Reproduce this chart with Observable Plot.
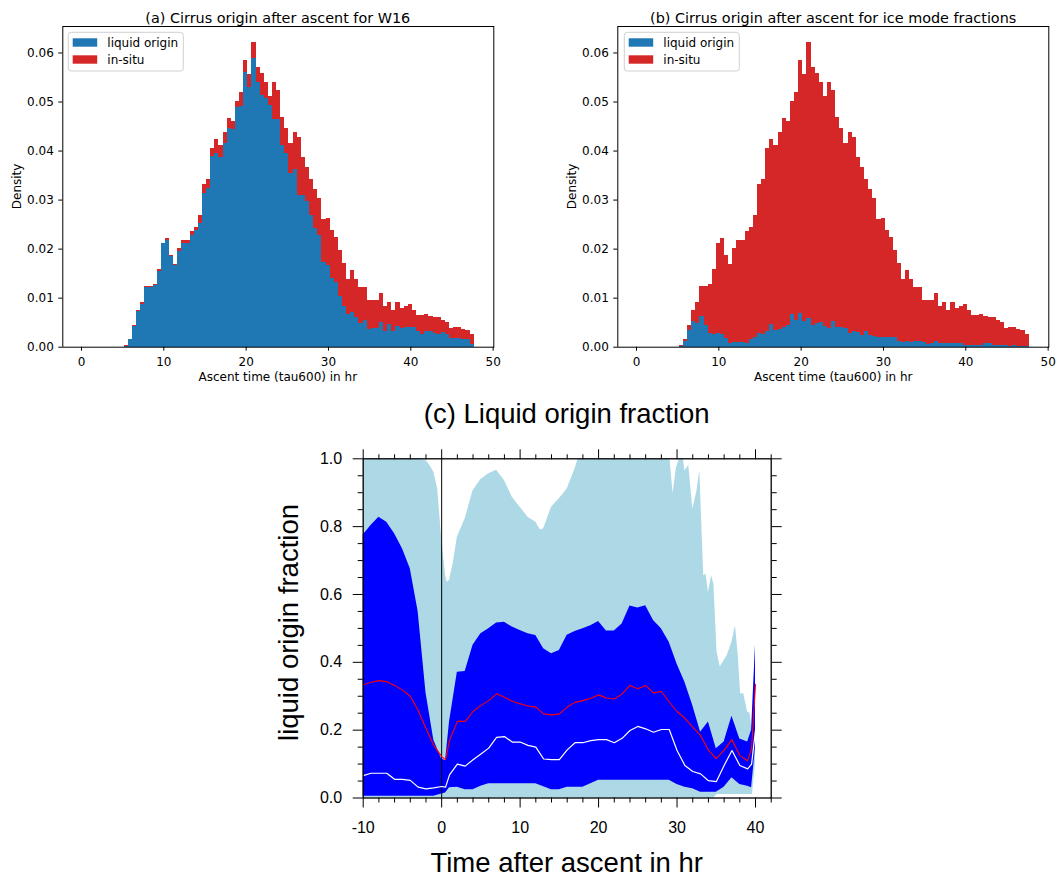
<!DOCTYPE html>
<html><head><meta charset="utf-8">
<script src="https://cdn.jsdelivr.net/npm/d3@7"></script>
<script src="https://cdn.jsdelivr.net/npm/@observablehq/plot@0.6"></script>
<style>
html,body{margin:0;padding:0;background:#fff;}
#page{position:relative;width:1057px;height:881px;overflow:hidden;background:#fff;}
.panel{position:absolute;}
#overlay{position:absolute;left:0;top:0;}
</style></head>
<body><div id="page">
<div id="pa" class="panel" style="left:0;top:0;width:520px;height:395px"></div>
<div id="pb" class="panel" style="left:555.4px;top:0;width:500px;height:395px"></div>
<div id="pc" class="panel" style="left:250px;top:440px;width:560px;height:420px"></div>
<svg id="overlay" width="1057" height="881">
  <g font-family="DejaVu Sans" fill="#000">
    <text x="277.8" y="22.5" font-size="14.4" text-anchor="middle">(a) Cirrus origin after ascent for W16</text>
    <text x="833.2" y="22.5" font-size="14.4" text-anchor="middle">(b) Cirrus origin after ascent for ice mode fractions</text>
    <text x="277.8" y="381" font-size="12" text-anchor="middle">Ascent time (tau600) in hr</text>
    <text x="833.2" y="381" font-size="12" text-anchor="middle">Ascent time (tau600) in hr</text>
    <text transform="translate(20.7,186.4) rotate(-90)" font-size="12" text-anchor="middle">Density</text>
    <text transform="translate(576.1,186.4) rotate(-90)" font-size="12" text-anchor="middle">Density</text>
  </g>
  <g id="legends" font-family="DejaVu Sans" font-size="12" fill="#000"></g>
  <g font-family="Liberation Sans" font-size="27.5" fill="#000" text-anchor="middle">
    <text x="566.7" y="423">(c) Liquid origin fraction</text>
    <text x="566.7" y="872">Time after ascent in hr</text>
    <text transform="translate(298.3,622.5) rotate(-90)">liquid origin fraction</text>
  </g>
</svg>
</div>
<script>
// ---------- Panels (a) and (b): stacked density histograms ----------
const binStart = 5.2;
const binWidth = 0.5;
const seriesNames = ["liquid origin", "in-situ"];
const seriesColors = ["#1f77b4", "#d62728"];
const histXTicks = [0, 10, 20, 30, 40, 50];
const histYTicks = [0, 0.01, 0.02, 0.03, 0.04, 0.05, 0.06];

// total stacked density per bin (same for both panels)
const totalDensity = [
  0.0004, 0.0016, 0.0044, 0.0074, 0.0092, 0.0124, 0.0124, 0.0128, 0.0158, 0.0212,
  0.0222, 0.0186, 0.0169, 0.0201, 0.0218, 0.0218, 0.0236, 0.0245, 0.0269, 0.0332,
  0.0342, 0.0406, 0.0424, 0.0411, 0.0438, 0.0466, 0.0460, 0.0501, 0.0519, 0.0585,
  0.0556, 0.0621, 0.0570, 0.0559, 0.0540, 0.0511, 0.0539, 0.0523, 0.0468, 0.0445,
  0.0415, 0.0438, 0.0427, 0.0386, 0.0367, 0.0341, 0.0321, 0.0303, 0.0260, 0.0262,
  0.0238, 0.0223, 0.0197, 0.0170, 0.0139, 0.0156, 0.0139, 0.0121, 0.0121, 0.0095,
  0.0095, 0.0095, 0.0109, 0.0083, 0.0092, 0.0075, 0.0092, 0.0078, 0.0083, 0.0087,
  0.0075, 0.0065, 0.0065, 0.0067, 0.0063, 0.0060, 0.0061, 0.0054, 0.0050, 0.0039,
  0.0041, 0.0041, 0.0036, 0.0034, 0.0025
];
// liquid-origin part, W16
const liquidW16 = [
  0.0001, 0.0015, 0.0042, 0.0073, 0.0087, 0.0122, 0.0122, 0.0126, 0.0155, 0.0211,
  0.0218, 0.0185, 0.0167, 0.0196, 0.0211, 0.0211, 0.0228, 0.0237, 0.0252, 0.0314,
  0.0323, 0.0389, 0.0394, 0.0386, 0.0415, 0.0445, 0.0443, 0.0488, 0.0491, 0.0560,
  0.0530, 0.0589, 0.0540, 0.0513, 0.0508, 0.0492, 0.0464, 0.0464, 0.0411, 0.0394,
  0.0355, 0.0362, 0.0309, 0.0309, 0.0298, 0.0268, 0.0243, 0.0228, 0.0173, 0.0167,
  0.0141, 0.0131, 0.0103, 0.0083, 0.0067, 0.0071, 0.0060, 0.0049, 0.0054, 0.0037,
  0.0039, 0.0039, 0.0051, 0.0031, 0.0046, 0.0032, 0.0043, 0.0039, 0.0041, 0.0041,
  0.0041, 0.0031, 0.0026, 0.0032, 0.0031, 0.0027, 0.0026, 0.0029, 0.0025, 0.0017,
  0.0017, 0.0017, 0.0015, 0.0015, 0.0005
];
// liquid-origin part, ice mode fractions
const liquidIceMode = [
  0.0002, 0.0012, 0.0035, 0.0052, 0.0048, 0.0063, 0.0044, 0.0027, 0.0026, 0.0027,
  0.0025, 0.0017, 0.0007, 0.0010, 0.0010, 0.0010, 0.0007, 0.0015, 0.0019, 0.0027,
  0.0026, 0.0031, 0.0046, 0.0035, 0.0037, 0.0041, 0.0044, 0.0067, 0.0054, 0.0068,
  0.0052, 0.0058, 0.0044, 0.0049, 0.0051, 0.0042, 0.0039, 0.0052, 0.0041, 0.0041,
  0.0039, 0.0027, 0.0031, 0.0029, 0.0024, 0.0031, 0.0024, 0.0022, 0.0020, 0.0020,
  0.0019, 0.0019, 0.0019, 0.0012, 0.0010, 0.0012, 0.0010, 0.0012, 0.0012, 0.0010,
  0.0005, 0.0008, 0.0012, 0.0007, 0.0007, 0.0007, 0.0007, 0.0007, 0.0007, 0.0003,
  0.0003, 0.0003, 0.0003, 0.0003, 0.0007, 0.0007, 0.0003, 0.0003, 0.0003, 0.0003,
  0.0002, 0.0003, 0.0002, 0.0002, 0.0001
];

// ---------- Panel (c): liquid origin fraction vs time ----------
const hours = [-10, -9, -8, -7, -6, -5, -4, -3, -2, -1, 0, 0.5, 1, 2, 3, 4, 5, 6, 7, 8, 9, 10,
  11, 12, 13, 14, 15, 16, 17, 18, 19, 20, 21, 22, 23, 24, 25, 26, 27, 28, 29, 30,
  31, 32, 33, 34, 35, 36, 37, 38, 39, 39.5, 40];
const innerHigh = [0.775, 0.803, 0.828, 0.813, 0.779, 0.735, 0.676, 0.55, 0.31, 0.17, 0.115, 0.11,
  0.224, 0.371, 0.373, 0.45, 0.484, 0.499, 0.516, 0.518, 0.504, 0.494,
  0.484, 0.479, 0.44, 0.425, 0.435, 0.48, 0.491, 0.499, 0.508, 0.52,
  0.492, 0.492, 0.513, 0.566, 0.56, 0.567, 0.523, 0.499, 0.459, 0.395,
  0.341, 0.273, 0.194, 0.224, 0.145, 0.165, 0.241, 0.174, 0.165, 0.2, 0.45];
const innerLow = [0.005, 0.005, 0.005, 0.005, 0.005, 0.005, 0.005, 0.005, 0.005, 0.005, 0.012, 0.015,
  0.03, 0.032, 0.024, 0.024, 0.035, 0.042, 0.042, 0.042, 0.042, 0.042,
  0.042, 0.042, 0.033, 0.024, 0.024, 0.032, 0.032, 0.032, 0.042, 0.052,
  0.052, 0.052, 0.052, 0.052, 0.052, 0.052, 0.052, 0.052, 0.052, 0.04,
  0.032, 0.027, 0.017, 0.017, 0.017, 0.032, 0.06, 0.04, 0.035, 0.03, 0.15];
const meanFraction = [0.334, 0.341, 0.346, 0.343, 0.332, 0.318, 0.300, 0.258, 0.205, 0.155, 0.122, 0.113,
  0.17, 0.226, 0.226, 0.255, 0.273, 0.287, 0.307, 0.297, 0.285, 0.278,
  0.271, 0.268, 0.248, 0.245, 0.248, 0.268, 0.282, 0.287, 0.294, 0.304,
  0.295, 0.292, 0.307, 0.332, 0.322, 0.332, 0.31, 0.314, 0.283, 0.255,
  0.235, 0.209, 0.184, 0.141, 0.116, 0.141, 0.172, 0.125, 0.11, 0.145, 0.335];
const medianFraction = [0.066, 0.073, 0.073, 0.073, 0.055, 0.055, 0.052, 0.032, 0.027, 0.03, 0.034, 0.032,
  0.068, 0.1, 0.094, 0.113, 0.13, 0.147, 0.179, 0.181, 0.165, 0.165,
  0.155, 0.15, 0.115, 0.113, 0.113, 0.142, 0.163, 0.163, 0.169, 0.172,
  0.172, 0.163, 0.176, 0.199, 0.211, 0.204, 0.194, 0.202, 0.202, 0.14,
  0.096, 0.078, 0.071, 0.051, 0.048, 0.096, 0.14, 0.096, 0.086, 0.1, 0.2];
const outerHours = [-10, -3, -2, -1.5, -1, -0.5, 0, 0.5, 0.7, 1,
  1.5, 2, 3, 4, 5, 6, 7, 8, 9, 10,
  11, 12, 12.6, 13, 14, 15, 16, 17, 17.4, 29.1,
  29.5, 29.9, 30.3, 30.8, 31.0, 31.5, 32.0, 32.5, 32.9, 33.4,
  33.7, 34.0, 34.4, 34.7, 35.1, 35.5, 36.4, 37.0, 37.45, 37.8,
  38.1, 38.5, 39.0, 39.3, 39.6, 40];
const outerHigh = [1, 1, 0.995, 0.98, 0.96, 0.91, 0.764, 0.656, 0.636, 0.641,
  0.695, 0.769, 0.823, 0.906, 0.939, 0.956, 0.966, 0.936, 0.887, 0.857,
  0.828, 0.813, 0.79, 0.794, 0.857, 0.882, 0.911, 0.97, 1.0, 1.0,
  0.897, 0.97, 1.0, 1.0, 0.965, 0.98, 0.852, 0.9, 0.965, 0.655,
  0.66, 0.606, 0.655, 0.63, 0.43, 0.386, 0.42, 0.46, 0.508, 0.42,
  0.307, 0.307, 0.253, 0.25, 0.194, 0.45];
const outerLow = [0, 0, 0, 0, 0, 0, 0, 0, 0, 0,
  0, 0, 0, 0, 0, 0, 0, 0, 0, 0,
  0, 0, 0, 0, 0, 0, 0, 0, 0, 0,
  0, 0, 0, 0, 0, 0, 0, 0, 0, 0,
  0, 0, 0, 0, 0.01, 0.01, 0.01, 0.01, 0.01, 0.01,
  0.01, 0.01, 0.01, 0.01, 0.01, 0.1];
const timeMajorTicks = [-10, 0, 10, 20, 30, 40];
const fractionMajorTicks = [0, 0.2, 0.4, 0.6, 0.8, 1.0];

// ---------- drawing ----------
function histogram(liquid) {
  const bins = totalDensity.map((total, i) => ({
    x1: binStart + i * binWidth,
    x2: binStart + (i + 1) * binWidth,
    base: 0,
    liquid: liquid[i],
    total
  }));
  return Plot.plot({
    width: 520, height: 395,
    marginLeft: 62.3, marginRight: 26.7, marginTop: 26, marginBottom: 48.3,
    style: {fontFamily: "DejaVu Sans", fontSize: "12px", background: "transparent", maxWidth: "none", overflow: "visible"},
    x: {domain: [-2.27, 50.08], axis: null, label: null},
    y: {domain: [0, 0.0654], axis: null, label: null},
    marks: [
      Plot.rect(bins, {x1: "x1", x2: "x2", y1: "base", y2: "liquid", fill: seriesColors[0], shapeRendering: "crispEdges"}),
      Plot.rect(bins, {x1: "x1", x2: "x2", y1: "liquid", y2: "total", fill: seriesColors[1], shapeRendering: "crispEdges"}),
      Plot.axisX({ticks: histXTicks, tickSize: 4, tickPadding: 6, label: null, tickFormat: d => String(d)}),
      Plot.axisY({ticks: histYTicks, tickSize: 4, tickPadding: 5, label: null, tickFormat: d3.format(".2f")}),
      Plot.frame({stroke: "#000", strokeWidth: 1})
    ]
  });
}
document.getElementById("pa").append(histogram(liquidW16));
document.getElementById("pb").append(histogram(liquidIceMode));

// legends
const legendG = d3.select("#legends");
[0, 556].forEach(off => {
  const g = legendG.append("g").attr("transform", `translate(${off},0)`);
  g.append("rect").attr("x", 68.3).attr("y", 32.3).attr("width", 115).attr("height", 38.7)
    .attr("rx", 3).attr("fill", "#fff").attr("fill-opacity", 0.8).attr("stroke", "#d0d0d0").attr("stroke-width", 1);
  seriesNames.forEach((name, i) => {
    g.append("rect").attr("x", 72.7).attr("y", 38.3 + i * 17).attr("width", 24.5).attr("height", 8.4).attr("fill", seriesColors[i]);
    g.append("text").attr("x", 107.3).attr("y", 46.5 + i * 17).text(name);
  });
});

const inner = hours.map((t, i) => ({t, lo: innerLow[i], hi: innerHigh[i], mean: meanFraction[i], median: medianFraction[i]}));
const outer = outerHours.map((t, i) => ({t, lo: outerLow[i], hi: outerHigh[i]}));
const timeMinorTicks = d3.range(-10, 42.001, 2).filter(v => Math.abs(v % 10) > 1e-9);
const fractionMinorTicks = d3.range(0, 21).filter(k => k % 4 !== 0).map(k => k / 20);
const noLabel = () => "";

const pc = Plot.plot({
  width: 560, height: 420,
  marginLeft: 112.7, marginRight: 39.3, marginTop: 18.3, marginBottom: 62.5,
  style: {fontFamily: "Liberation Sans", fontSize: "16px", background: "transparent", maxWidth: "none", overflow: "visible"},
  x: {domain: [-10, 42], axis: null, label: null},
  y: {domain: [0, 1], axis: null, label: null},
  marks: [
    Plot.areaY(outer, {x: "t", y1: "lo", y2: "hi", fill: "#add8e6"}),
    Plot.areaY(inner, {x: "t", y1: "lo", y2: "hi", fill: "#0000ff"}),
    Plot.ruleX([0], {stroke: "#000", strokeWidth: 1}),
    Plot.lineY(inner, {x: "t", y: "mean", stroke: "#ff0000", strokeWidth: 1.1}),
    Plot.lineY(inner, {x: "t", y: "median", stroke: "#ffffff", strokeWidth: 1.2}),
    Plot.axisX({anchor: "bottom", ticks: timeMajorTicks, tickSize: 10, tickPadding: 14, label: null, tickFormat: d => String(d)}),
    Plot.axisX({anchor: "bottom", ticks: timeMinorTicks, tickSize: 5, label: null, tickFormat: noLabel}),
    Plot.axisX({anchor: "top", ticks: timeMajorTicks, tickSize: 10, label: null, tickFormat: noLabel}),
    Plot.axisX({anchor: "top", ticks: timeMinorTicks, tickSize: 5, label: null, tickFormat: noLabel}),
    Plot.axisY({anchor: "left", ticks: fractionMajorTicks, tickSize: 10, tickPadding: 11, label: null, tickFormat: d3.format(".1f")}),
    Plot.axisY({anchor: "left", ticks: fractionMinorTicks, tickSize: 5, label: null, tickFormat: noLabel}),
    Plot.axisY({anchor: "right", ticks: fractionMajorTicks, tickSize: 10, label: null, tickFormat: noLabel}),
    Plot.axisY({anchor: "right", ticks: fractionMinorTicks, tickSize: 5, label: null, tickFormat: noLabel}),
    Plot.frame({stroke: "#000", strokeWidth: 1.3})
  ]
});
document.getElementById("pc").append(pc);
</script>
</body></html>
